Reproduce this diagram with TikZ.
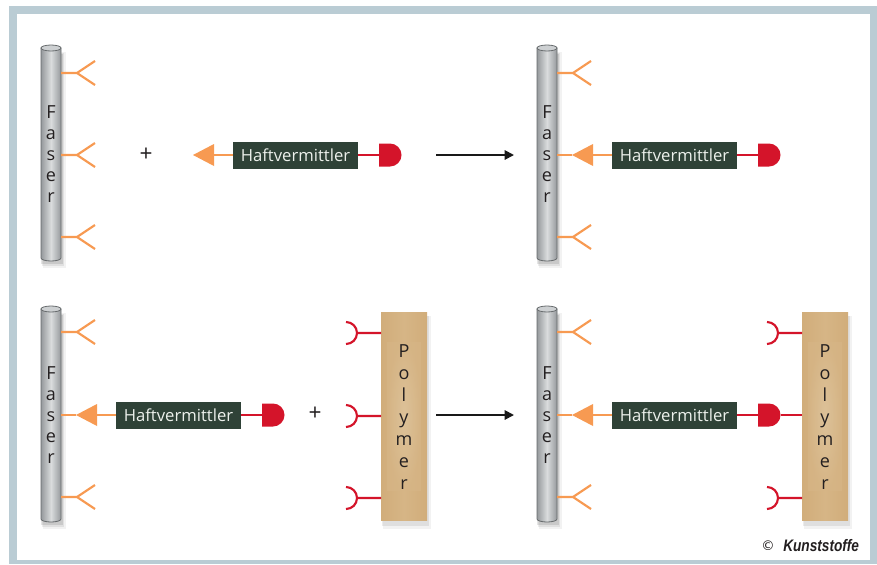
\documentclass[tikz,border=0pt]{standalone}
\usepackage{fontspec}
\setmainfont{Open Sans}
\newfontfamily\kfont[FakeStretch=0.82]{Liberation Sans}
\newfontfamily\symfont{DejaVu Sans}
\usetikzlibrary{arrows.meta}
\definecolor{frameblue}{HTML}{BACCD4}
\definecolor{orng}{HTML}{F79A52}
\definecolor{redc}{HTML}{D4142A}
\definecolor{boxgreen}{HTML}{2F4237}
\definecolor{boxtext}{HTML}{EDF1EC}
\definecolor{tan}{HTML}{D1AD7A}
\definecolor{tanmid}{HTML}{D6B586}
\definecolor{tanlight}{HTML}{E0C7A1}
\definecolor{cyldark}{HTML}{95999C}
\definecolor{cyllight}{HTML}{DADCDD}
\definecolor{cyledge}{HTML}{676B6D}
\definecolor{cyltop}{HTML}{CDD0D2}
\definecolor{txt}{HTML}{231F20}
\tikzset{
  orangeline/.style={draw=orng, line width=1.6pt},
  redline/.style={draw=redc, line width=1.6pt},
  hvbox/.style={fill=boxgreen, text=boxtext, minimum width=125*0.75pt, minimum height=27*0.75pt, inner sep=0pt, font=\fontsize{12.5}{14}\selectfont},
  lettertext/.style={align=center, text=txt, inner sep=0pt, font=\fontsize{13.5}{15.9}\selectfont},
  lettertextP/.style={align=center, text=txt, inner sep=0pt, font=\fontsize{13.5}{16.5}\selectfont},
  plustext/.style={text=txt, inner sep=0pt, font=\fontsize{17}{18}\selectfont},
  reactarrow/.style={draw=black!90, line width=1.4pt, -{Triangle[length=7pt,width=7pt]}},
}
\newcommand\faserbody[4]{% cx, ytop, ybot, name
  \fill[black,opacity=0.05] (#1-8,#2+4) rectangle (#1+15,#3+10);
  \fill[black,opacity=0.07] (#1-9,#2+5) rectangle (#1+13,#3+8);
  \fill[black,opacity=0.10] (#1-10,#2+6) rectangle (#1+12,#3+6);
  \path[draw=cyledge, line width=0.6pt, left color=cyldark, right color=cyldark, middle color=cyllight]
    (#1-10,#2) -- (#1-10,#3) arc (180:0:10 and 3) -- (#1+10,#2) -- cycle;
  \path[draw=cyledge, fill=cyltop, line width=0.6pt] (#1,#2) ellipse (10 and 3);
  \node[lettertext] (#4) at (#1,{(#2+#3)/2+1}) {F\\a\\s\\e\\r};
}
\newcommand\ybranch[2]{% cx, y
  \draw[orangeline, line join=round] (#1+10,#2) -- (#1+26,#2) -- (#1+44,#2-12) (#1+26,#2) -- (#1+44,#2+12);
}
\newcommand\hook[2]{% xblockleft, y
  \draw[redline] (#1,#2) -- (#1-24,#2) (#1-35,#2-11) arc (-90:90:11);
}
\newcommand\haft[3]{% xtip, y, name
  \node[hvbox] (#3) at (#1+102.5,#2) {Haftvermittler};
  \coordinate (#3tip) at (#1,#2);
  \coordinate (#3d) at (#1+187,#2);
  \draw[orangeline] (#3.west) -- (#1+18,#2);
  \fill[orng] (#3tip) -- (#1+21,#2-11) -- (#1+21,#2+11) -- cycle;
  \draw[redline] (#3.east) -- (#3d);
  \fill[redc] (#1+186,#2-11.5) -- (#1+197,#2-11.5) arc (-90:90:11.5) -- (#1+186,#2+11.5) -- cycle;
  \coordinate (#3dr) at (#1+208.5,#2);
}
\newcommand\polymer[4]{% xl, ytop, ybot, name
  \fill[black,opacity=0.05] (#1+2,#2+4) rectangle (#1+50,#3+9);
  \fill[black,opacity=0.08] (#1+1,#2+4) rectangle (#1+48,#3+6);
  \path[left color=tan, right color=tan, middle color=tanmid] (#1,#2) rectangle (#1+46,#3);
  \path[inner color=tanlight, outer color=tanmid, opacity=0.7] (#1+6,#2+30) rectangle (#1+40,#3-30);
  \node[lettertextP] (#4) at (#1+23,{(#2+#3)/2+1}) {P\\o\\l\\y\\m\\e\\r};
}
\begin{document}
\begin{tikzpicture}[x=0.75pt,y=-0.75pt]
\useasboundingbox (0,0) rectangle (877,564);
\fill[frameblue] (9,6) rectangle (877,564);
\fill[white] (17,14) rectangle (870,560);

% ---------- top row ----------
\faserbody{51}{48}{258}{f1}
\ybranch{51}{73}
\ybranch{51}{155}
\ybranch{51}{237}
\node[plustext] (p1) at (146,155) {+};
\haft{193}{155}{h1}

\coordinate (a1s) at (436,155);
\coordinate (a1e) at (514,155);
\draw[reactarrow] (a1s) -- (a1e);

\faserbody{547}{48}{258}{f2}
\ybranch{547}{73}
\ybranch{547}{237}
\haft{572}{155}{h2}
\coordinate (f2s) at (557,155);
\draw[orangeline] (f2s) -- (h2tip);

% ---------- bottom row ----------
\faserbody{51}{309}{519}{f3}
\ybranch{51}{332}
\ybranch{51}{497}
\haft{76}{415}{h3}
\coordinate (f3s) at (61,415);
\draw[orangeline] (f3s) -- (h3tip);
\node[plustext] (p2) at (315,414) {+};

\polymer{381}{312}{520}{poly1}
\hook{381}{333}
\hook{381}{416}
\hook{381}{498}

\coordinate (a2s) at (436,415);
\coordinate (a2e) at (514,415);
\draw[reactarrow] (a2s) -- (a2e);

\faserbody{547}{309}{519}{f4}
\ybranch{547}{332}
\ybranch{547}{497}
\haft{572}{415}{h4}
\coordinate (f4s) at (557,415);
\draw[orangeline] (f4s) -- (h4tip);
\polymer{802}{312}{520}{poly2}
\coordinate (poly2w) at (802,415);
\draw[redline] (h4dr) -- (poly2w);
\hook{802}{333}
\hook{802}{498}

% ---------- copyright ----------
\node[text=txt, inner sep=0pt, font=\symfont\fontsize{10}{12}\selectfont] (copy) at (768,546) {©};
\node[text=txt, inner sep=0pt, font=\kfont\bfseries\itshape\fontsize{12.5}{14}\selectfont, anchor=west] (kst) at (783,546) {Kunststoffe};
\end{tikzpicture}
\end{document}
